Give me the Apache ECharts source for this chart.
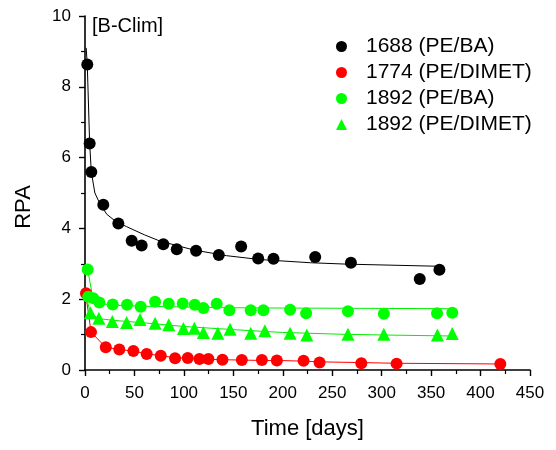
<!DOCTYPE html>
<html>
<head>
<meta charset="utf-8">
<title>RPA vs Time</title>
<script src="https://cdn.jsdelivr.net/npm/echarts@6/dist/echarts.min.js"></script>
<style>
  html, body { margin: 0; padding: 0; background: #fff; }
  #chart { width: 556px; height: 450px; }
</style>
</head>
<body>
<div id="chart"></div>
<script>
// measured points (time in days, RPA)
var t1688 = [2.3, 4.7, 6.4, 18.5, 33.7, 47.2, 57.3, 79.2, 92.8, 112.3, 135.3, 157.9, 175.1, 190.6, 232.8, 268.9, 338.5, 358.4];
var y1688 = [8.63, 6.40, 5.59, 4.67, 4.14, 3.65, 3.52, 3.55, 3.41, 3.37, 3.25, 3.49, 3.15, 3.14, 3.19, 3.03, 2.57, 2.83];

var t1774 = [1, 6.1, 21, 34.7, 48.9, 62.4, 76.6, 91.1, 103.9, 115.7, 124.8, 139, 158.6, 178.9, 194, 221, 237.2, 279.4, 315.1, 420];
var y1774 = [2.17, 1.07, 0.64, 0.58, 0.54, 0.45, 0.40, 0.33, 0.34, 0.31, 0.31, 0.29, 0.28, 0.28, 0.27, 0.26, 0.21, 0.19, 0.18, 0.17];

var t1892ba = [2.7, 3.3, 8.4, 14.5, 28, 42.5, 56.3, 70.9, 84.7, 98.8, 111, 119.7, 133.2, 146, 167.6, 180.4, 207.4, 223.6, 265.9, 302.2, 356, 371.4];
var y1892ba = [2.84, 2.07, 2.03, 1.91, 1.85, 1.84, 1.79, 1.93, 1.87, 1.88, 1.84, 1.75, 1.87, 1.69, 1.69, 1.69, 1.70, 1.60, 1.66, 1.59, 1.60, 1.62];

var t1892di = [5.5, 14, 27.6, 42.1, 55.7, 70.9, 84.7, 99.5, 110.6, 119.7, 134.3, 146.7, 167.6, 181.9, 207.4, 224.3, 265.9, 302.2, 356.4, 371.4];
var y1892di = [1.62, 1.46, 1.37, 1.34, 1.43, 1.32, 1.28, 1.17, 1.18, 1.06, 1.04, 1.15, 1.04, 1.11, 1.04, 0.99, 1.01, 1.01, 0.99, 1.03];

// fitted curves
var fit1688T = [1.2, 2.3, 4.7, 6.4, 10, 15, 22, 30, 42, 60, 76, 110, 143, 177, 228, 265, 358];
var fit1688Y = [9.1, 8.63, 6.40, 5.59, 5.0, 4.70, 4.40, 4.22, 4.05, 3.82, 3.64, 3.39, 3.23, 3.12, 3.03, 2.99, 2.93];

var fit1774T = [0.5, 6.1, 21, 35, 49, 62, 77, 91, 104, 116, 125, 139, 159, 179, 194, 221, 237, 279, 315, 420];
var fit1774Y = [2.2, 1.07, 0.64, 0.58, 0.53, 0.46, 0.40, 0.35, 0.33, 0.31, 0.30, 0.29, 0.28, 0.27, 0.27, 0.25, 0.23, 0.21, 0.19, 0.17];

var fit1892baT = [2.7, 8, 15, 30, 60, 100, 143, 200, 300, 372];
var fit1892baY = [2.84, 2.02, 1.88, 1.83, 1.80, 1.78, 1.76, 1.75, 1.74, 1.73];

var fit1892diT = [1, 5.5, 14, 30, 60, 100, 150, 200, 260, 300, 372];
var fit1892diY = [2.1, 1.60, 1.45, 1.40, 1.33, 1.23, 1.14, 1.06, 1.01, 0.99, 0.96];

var legendNames = ['1688 (PE/BA)', '1774 (PE/DIMET)', '1892 (PE/BA)', '1892 (PE/DIMET)'];

function zip(a, b) {
  var out = [];
  for (var i = 0; i < a.length; i++) out.push([a[i], b[i]]);
  return out;
}

var chart = echarts.init(document.getElementById('chart'));
var font = 'Liberation Sans, Arial, sans-serif';

function pts(name, t, y, color, symbol, size) {
  return {
    name: name, type: 'scatter', data: zip(t, y),
    symbol: symbol, symbolSize: size,
    itemStyle: { color: color, opacity: 1 },
    z: 3
  };
}
function fit(name, t, y, color) {
  return {
    name: name, type: 'line', data: zip(t, y),
    showSymbol: false, smooth: false,
    lineStyle: { color: color, width: 1 },
    itemStyle: { color: color },
    silent: true, z: 2
  };
}

var option = {
  backgroundColor: '#fff',
  animation: false,
  textStyle: { fontFamily: font },
  grid: { left: 85, right: 26, top: 16, bottom: 80 },
  legend: {
    data: legendNames,
    orient: 'vertical',
    left: 331, top: 31,
    itemWidth: 11, itemHeight: 11,
    itemGap: 5,
    textStyle: { fontSize: 21, color: '#000', fontFamily: font, padding: [0, 0, 0, 14] }
  },
  graphic: [{
    type: 'text', left: 92, top: 16,
    style: { text: '[B-Clim]', fontSize: 20, fontFamily: font, fill: '#000' }
  }],
  xAxis: {
    type: 'value', min: 0, max: 450, interval: 50,
    name: 'Time [days]', nameLocation: 'middle', nameGap: 48,
    nameTextStyle: { fontSize: 22, color: '#000', fontFamily: font },
    axisLine: { show: true, onZero: false, lineStyle: { color: '#000', width: 1.6 } },
    axisTick: { show: true, length: 6, lineStyle: { color: '#000', width: 1.4 } },
    minorTick: { show: true, splitNumber: 2, length: 4, lineStyle: { color: '#000', width: 1.2 } },
    axisLabel: { fontSize: 17, color: '#000', margin: 15, fontFamily: font },
    splitLine: { show: false }
  },
  yAxis: {
    type: 'value', min: 0, max: 10, interval: 2,
    name: 'RPA', nameLocation: 'middle', nameGap: 50,
    nameTextStyle: { fontSize: 22, color: '#000', fontFamily: font, padding: [0, 28, 0, 0] },
    axisLine: { show: true, onZero: false, lineStyle: { color: '#000', width: 1.6 } },
    axisTick: { show: true, length: 6, lineStyle: { color: '#000', width: 1.4 } },
    minorTick: { show: true, splitNumber: 2, length: 4, lineStyle: { color: '#000', width: 1.2 } },
    axisLabel: { fontSize: 17, color: '#000', margin: 14, fontFamily: font },
    splitLine: { show: false }
  },
  series: [
    fit('fit 1688', fit1688T, fit1688Y, '#000000'),
    fit('fit 1774', fit1774T, fit1774Y, '#ff0000'),
    fit('fit 1892 BA', fit1892baT, fit1892baY, '#00ee00'),
    fit('fit 1892 DIMET', fit1892diT, fit1892diY, '#00ee00'),
    pts(legendNames[0], t1688, y1688, '#000000', 'circle', 12),
    pts(legendNames[1], t1774, y1774, '#ff0000', 'circle', 12),
    pts(legendNames[2], t1892ba, y1892ba, '#00ff00', 'circle', 12),
    pts(legendNames[3], t1892di, y1892di, '#00ff00', 'triangle', 13)
  ]
};
chart.setOption(option);
</script>
</body>
</html>
